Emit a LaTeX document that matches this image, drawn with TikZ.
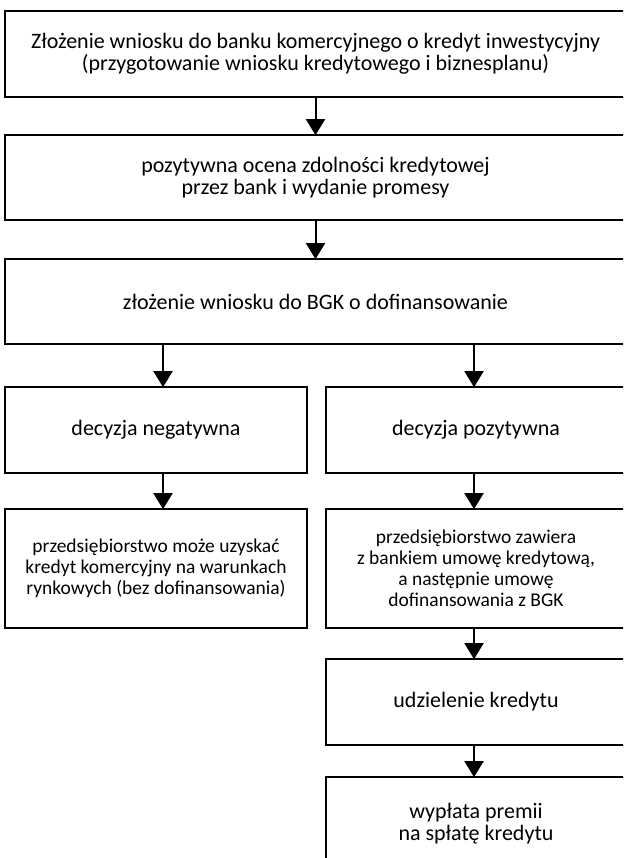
\documentclass[tikz,border=0pt]{standalone}
\usepackage{fontspec}
\setmainfont{Carlito}
\usetikzlibrary{arrows.meta}
\tikzset{
  box/.style={draw=black, line width=1.7pt, inner sep=0pt, align=center,
    font=\fontsize{22}{21.5}\selectfont},
  smalltext/.style={font=\fontsize{19.5}{21}\selectfont},
  arr/.style={line width=2pt, -{Triangle[width=19pt,length=16pt]}, shorten >=-1pt}
}
\begin{document}
\begin{tikzpicture}[x=1pt,y=-1pt]
\useasboundingbox (0,0) rectangle (623,858);
\clip (0,0) rectangle (623,858);
\fill[white] (0,0) rectangle (623,858);
\node[box, minimum width=621, minimum height=86] (b1) at (315.5,54)
  {Złożenie wniosku do banku komercyjnego o kredyt inwestycyjny\\(przygotowanie wniosku kredytowego i biznesplanu)};
\node[box, minimum width=621, minimum height=85] (b2) at (315.5,177.5)
  {pozytywna ocena zdolności kredytowej\\przez bank i wydanie promesy};
\node[box, minimum width=621, minimum height=85] (b3) at (315.5,301.5)
  {złożenie wniosku do BGK o dofinansowanie};
\node[box, minimum width=302, minimum height=86] (b4l) at (156,430)
  {decyzja negatywna};
\node[box, minimum width=300, minimum height=86] (b4r) at (476,430)
  {decyzja pozytywna};
\node[box, smalltext, minimum width=302, minimum height=119] (b5l) at (156,568.5)
  {przedsiębiorstwo może uzyskać\\kredyt komercyjny na warunkach\\rynkowych (bez dofinansowania)};
\node[box, smalltext, minimum width=300, minimum height=119] (b5r) at (476,568.5)
  {przedsiębiorstwo zawiera\\z bankiem umowę kredytową,\\a następnie umowę\\dofinansowania z BGK};
\node[box, minimum width=300, minimum height=86] (b6) at (476,702)
  {udzielenie kredytu};
\node[box, minimum width=300, minimum height=93] (b7) at (476,823.5)
  {wypłata premii\\na spłatę kredytu};
\coordinate (xl) at (163,0);
\coordinate (xr) at (474,0);
\draw[arr] (b1.south) -- (b2.north);
\draw[arr] (b2.south) -- (b3.north);
\draw[arr] (xl |- b3.south) -- (xl |- b4l.north);
\draw[arr] (xr |- b3.south) -- (xr |- b4r.north);
\draw[arr] (xl |- b4l.south) -- (xl |- b5l.north);
\draw[arr] (xr |- b4r.south) -- (xr |- b5r.north);
\draw[arr] (xr |- b5r.south) -- (xr |- b6.north);
\draw[arr] (xr |- b6.south) -- (xr |- b7.north);
\end{tikzpicture}
\end{document}
